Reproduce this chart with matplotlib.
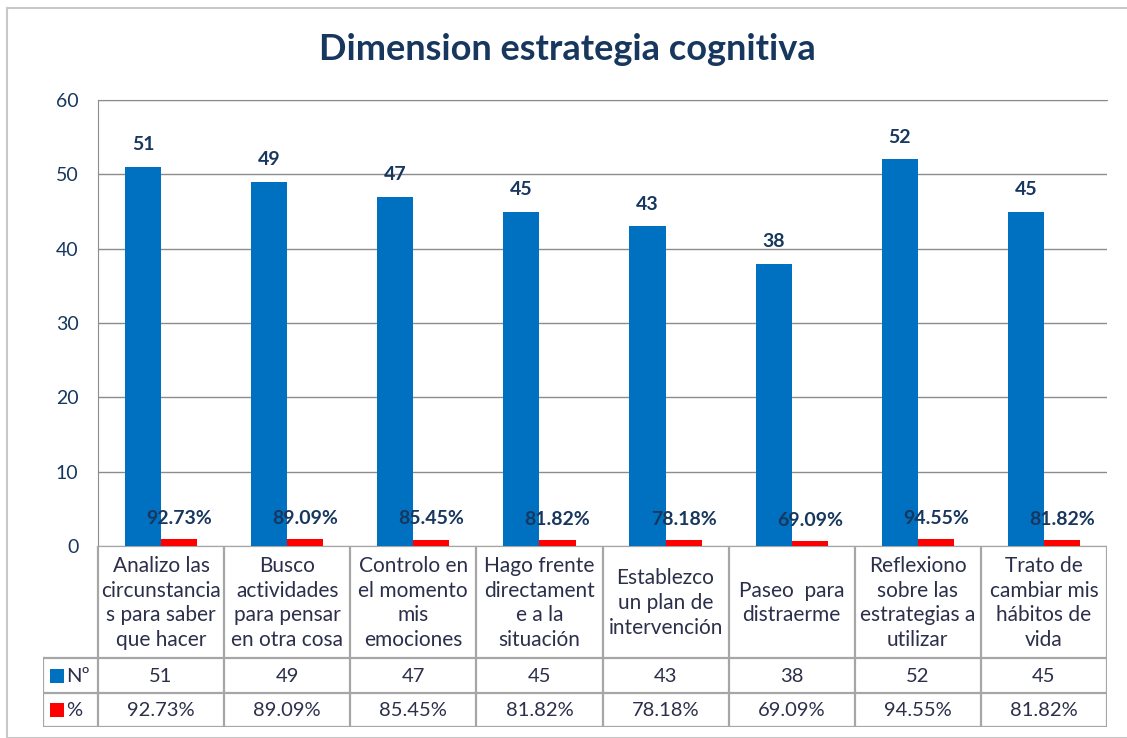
import numpy as np
import matplotlib
matplotlib.use("Agg")
import matplotlib.pyplot as plt
from matplotlib.patches import Rectangle

categories = [
    "Analizo las\ncircunstancia\ns para saber\nque hacer",
    "Busco\nactividades\npara pensar\nen otra cosa",
    "Controlo en\nel momento\nmis\nemociones",
    "Hago frente\ndirectament\ne a la\nsituación",
    "Establezco\nun plan de\nintervención",
    "Paseo  para\ndistraerme",
    "Reflexiono\nsobre las\nestrategias a\nutilizar",
    "Trato de\ncambiar mis\nhábitos de\nvida",
]
counts = [51, 49, 47, 45, 43, 38, 52, 45]
percents = [92.73, 89.09, 85.45, 81.82, 78.18, 69.09, 94.55, 81.82]
series_names = ["Nº", "%"]
yticks = [0, 10, 20, 30, 40, 50, 60]
title = "Dimension estrategia cognitiva"

BLUE = "#0070C0"
RED = "#FF0000"
NAVY = "#17375E"
TXT = "#2B2F4A"
GRID = "#8C8C8C"
TGRID = "#A6A6A6"
FONT = ["Lato", "DejaVu Sans"]
plt.rcParams["font.family"] = FONT

W, H = 1127, 738
fig = plt.figure(figsize=(W / 100, H / 100), dpi=100)

def px(x0, y0, x1, y1):
    return [x0 / W, 1 - y1 / H, (x1 - x0) / W, (y1 - y0) / H]

# outer chart frame
fig.add_artist(Rectangle((7 / W, 0), 1.2, 1 - 8 / H, transform=fig.transFigure,
                         fill=False, edgecolor="#C8C8C8", lw=1.5))

ax = fig.add_axes(px(98, 100, 1107, 546))
n = len(categories)
x = np.arange(n) + 0.5
bw = 0.286
pct_vals = [p / 100 for p in percents]
ax.bar(x - bw / 2, counts, width=bw, color=BLUE, zorder=3)
ax.bar(x + bw / 2, pct_vals, width=bw, color=RED, zorder=3)
for xi, c in zip(x, counts):
    ax.annotate(str(c), (xi - bw / 2, c), xytext=(0, 16), textcoords="offset points",
                ha="center", va="center", fontsize=14, fontweight="bold", color=NAVY)
for xi, p, pv in zip(x, percents, pct_vals):
    ax.annotate(f"{p:.2f}%", (xi + bw / 2, pv), xytext=(0, 15), textcoords="offset points",
                ha="center", va="center", fontsize=14, fontweight="bold", color=NAVY, zorder=4)

ax.set_xlim(0, n)
ax.set_ylim(0, 60)
ax.set_yticks(yticks)
ax.set_xticks([])
ax.tick_params(axis="y", length=0, pad=14, labelsize=14, labelcolor=NAVY)
ax.grid(axis="y", color=GRID, lw=1.0, zorder=0)
for s in ["right", "bottom"]:
    ax.spines[s].set_visible(False)
ax.spines["left"].set_color(GRID)
ax.spines["top"].set_color(GRID)

fig.text(567 / W, 1 - 49 / H, title, ha="center", va="center", fontsize=26,
         fontweight="bold", color=NAVY)

# data table
unit_px = (1107 - 98) / n
hdr = (98 - 43) / unit_px
tax = fig.add_axes(px(43, 546, 1107, 727))
tax.set_xlim(-hdr, n)
tax.set_ylim(181, 0)
tax.axis("off")
rows = [0, 112, 147, 181]
lkw = dict(color=TGRID, lw=1.6, solid_capstyle="projecting")
tax.plot([0, n], [0, 0], **lkw)
for r in rows[1:]:
    tax.plot([-hdr, n], [r, r], **lkw)
tax.plot([-hdr, -hdr], [rows[1], rows[3]], **lkw)
for i in range(n + 1):
    tax.plot([i, i], [0, 181], **lkw)
for xi, cat, c, p in zip(x, categories, counts, percents):
    tax.text(xi, 57, cat, ha="center", va="center", fontsize=15, color=TXT,
             linespacing=1.3)
    tax.text(xi, 130, str(c), ha="center", va="center", fontsize=14.5, color=TXT)
    tax.text(xi, 164, f"{p:.2f}%", ha="center", va="center", fontsize=14.5, color=TXT)
for (ry, col, name) in [(130, BLUE, series_names[0]), (164, RED, series_names[1])]:
    tax.add_patch(Rectangle((-hdr + 7 / unit_px, ry - 7), 14 / unit_px, 14, color=col, lw=0))
    tax.text(-hdr + 23 / unit_px, ry, name, ha="left", va="center", fontsize=14.5, color=TXT)

fig.savefig("out.png", dpi=100)
